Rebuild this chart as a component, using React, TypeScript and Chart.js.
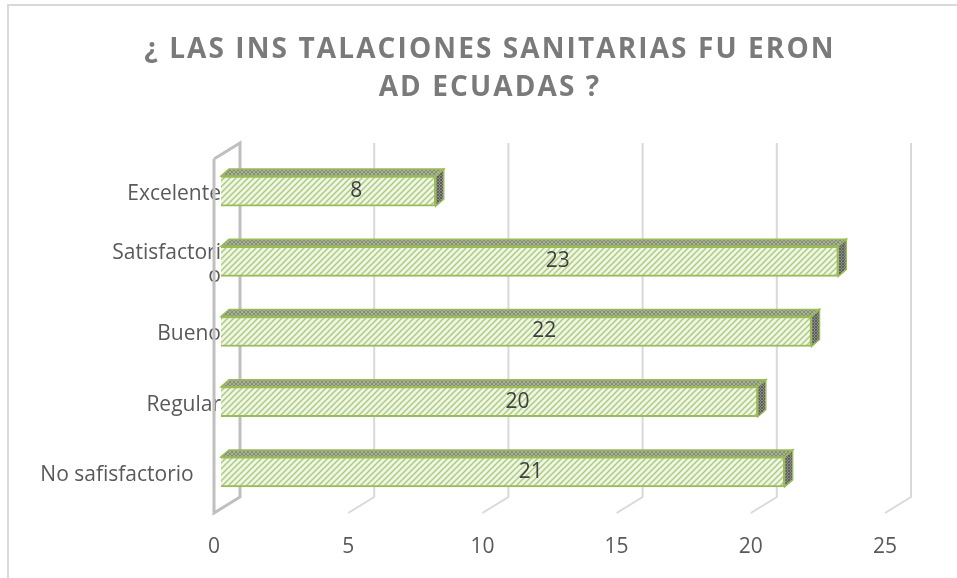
import React, { useEffect, useRef } from "react";
import { Chart, registerables } from "chart.js";

Chart.register(...registerables);

// ---- data ----
const categories: (string | string[])[] = [
  "Excelente",
  ["Satisfactori", "o"],
  "Bueno",
  "Regular",
  "No safisfactorio     ",
];
const values: number[] = [8, 23, 22, 20, 21];
const xMin = 0;
const xMax = 25;
const xStep = 5;
const titleLines: string[] = ["¿ LAS INS TALACIONES SANITARIAS FU ERON", "AD ECUADAS ?"];

// ---- style ----
const FONT = "'Open Sans', 'Liberation Sans', sans-serif";
const TEXT = "#595959";
const GRID = "#d9d9d9";
const WALL = "#bfbfbf";
const BAR_BORDER = "#9bbb59";
const DEPTH_X = 26;
const DEPTH_Y = -16;
const BAR_DX = 8;
const BAR_DY = -7;
const BAR_FRONT_SHIFT = 7;

function makePattern(bg: string, fg: string, size: number, lw: number, cross: boolean) {
  const c = document.createElement("canvas");
  c.width = size;
  c.height = size;
  const g = c.getContext("2d")!;
  g.fillStyle = bg;
  g.fillRect(0, 0, size, size);
  g.strokeStyle = fg;
  g.lineWidth = lw;
  g.beginPath();
  g.moveTo(-1, size + 1);
  g.lineTo(size + 1, -1);
  g.moveTo(-2, 2);
  g.lineTo(2, -2);
  g.moveTo(size - 2, size + 2);
  g.lineTo(size + 2, size - 2);
  if (cross) {
    g.moveTo(-1, -1);
    g.lineTo(size + 1, size + 1);
    g.moveTo(size - 2, -2);
    g.lineTo(size + 2, 2);
    g.moveTo(-2, size - 2);
    g.lineTo(2, size + 2);
  }
  g.stroke();
  return g.createPattern(c, "repeat")!;
}

export default function App() {
  const ref = useRef<HTMLCanvasElement | null>(null);

  useEffect(() => {
    const canvas = ref.current!;
    const ctx0 = canvas.getContext("2d")!;
    const front = makePattern("#f0f6e5", "#adcc80", 6, 1.5, false);
    const top = makePattern("#a9b298", "#848f70", 4, 1, true);
    const side = makePattern("#8a8a8a", "#5e5e5e", 3, 1, true);

    const decor = {
      id: "decor",
      beforeDraw(chart: any) {
        const ctx = chart.ctx;
        ctx.save();
        ctx.fillStyle = "#ffffff";
        ctx.fillRect(0, 0, chart.width, chart.height);
        ctx.strokeStyle = GRID;
        ctx.lineWidth = 2;
        ctx.strokeRect(8, 5, chart.width + 50, chart.height + 50);
        // title
        ctx.fillStyle = "#7a7a7a";
        ctx.font = `bold 28px ${FONT}`;
        (ctx as any).letterSpacing = "2.1px";
        ctx.textAlign = "center";
        ctx.textBaseline = "middle";
        titleLines.forEach((t, i) => ctx.fillText(t, 490, 50 + i * 38));
        ctx.restore();
      },
      beforeDatasetsDraw(chart: any) {
        const ctx = chart.ctx;
        const xs = chart.scales.x;
        const area = chart.chartArea;
        const frontBottom = area.bottom + 6;
        const backBottom = frontBottom + DEPTH_Y;
        const backTop = area.top - 13;
        ctx.save();
        ctx.lineWidth = 2;
        ctx.strokeStyle = GRID;
        for (let v = xMin + xStep; v <= xMax; v += xStep) {
          const fx = xs.getPixelForValue(v) - BAR_FRONT_SHIFT;
          const bx = fx + DEPTH_X;
          ctx.beginPath();
          ctx.moveTo(fx, frontBottom);
          ctx.lineTo(bx, backBottom);
          ctx.lineTo(bx, backTop);
          ctx.stroke();
        }
        // left wall
        const fx0 = xs.getPixelForValue(xMin) - BAR_FRONT_SHIFT;
        const bx0 = fx0 + DEPTH_X;
        const frontTop = backTop - DEPTH_Y;
        ctx.strokeStyle = WALL;
        ctx.lineWidth = 3;
        ctx.lineJoin = "miter";
        ctx.beginPath();
        ctx.moveTo(fx0, frontTop);
        ctx.lineTo(fx0, frontBottom);
        ctx.lineTo(bx0, backBottom);
        ctx.lineTo(bx0, backTop);
        ctx.lineTo(fx0, frontTop);
        ctx.stroke();
        ctx.restore();
      },
      afterDatasetsDraw(chart: any) {
        const ctx = chart.ctx;
        const meta = chart.getDatasetMeta(0);
        ctx.save();
        ctx.strokeStyle = BAR_BORDER;
        ctx.lineWidth = 1.5;
        meta.data.forEach((bar: any, i: number) => {
          const l = bar.base;
          const r = bar.x;
          const t = bar.y - bar.height / 2;
          const b = bar.y + bar.height / 2;
          // top face
          ctx.beginPath();
          ctx.moveTo(l, t);
          ctx.lineTo(l + BAR_DX, t + BAR_DY);
          ctx.lineTo(r + BAR_DX, t + BAR_DY);
          ctx.lineTo(r, t);
          ctx.closePath();
          ctx.fillStyle = top;
          ctx.fill();
          ctx.stroke();
          // side face
          ctx.beginPath();
          ctx.moveTo(r, t);
          ctx.lineTo(r + BAR_DX, t + BAR_DY);
          ctx.lineTo(r + BAR_DX, b + BAR_DY);
          ctx.lineTo(r, b);
          ctx.closePath();
          ctx.fillStyle = side;
          ctx.fill();
          ctx.stroke();
          // value label
          ctx.fillStyle = "#404040";
          ctx.font = `21px ${FONT}`;
          ctx.textAlign = "center";
          ctx.textBaseline = "middle";
          ctx.fillText(String(values[i]), (l + r) / 2 + 28, bar.y);
        });
        ctx.restore();
      },
    };

    const chart = new Chart(ctx0, {
      type: "bar",
      data: {
        labels: categories as any,
        datasets: [
          {
            data: values,
            backgroundColor: front as any,
            borderColor: BAR_BORDER,
            borderWidth: 2,
            barThickness: 30,
          },
        ],
      },
      options: {
        indexAxis: "y",
        animation: false,
        responsive: false,
        maintainAspectRatio: false,
        layout: { padding: { left: 0, top: 156, right: 65, bottom: 0 } },
        plugins: {
          legend: { display: false },
          title: { display: false },
          tooltip: { enabled: false },
        },
        scales: {
          x: {
            min: xMin,
            max: xMax,
            ticks: {
              stepSize: xStep,
              color: TEXT,
              font: { family: FONT, size: 21 },
              padding: 27,
              labelOffset: -BAR_FRONT_SHIFT,
            },
            grid: { display: false, drawTicks: false },
            border: { display: false },
            afterFit: (s: any) => {
              s.height = 71;
            },
          },
          y: {
            ticks: {
              color: TEXT,
              font: { family: FONT, size: 21, lineHeight: 1.1 },
              padding: 0,
              labelOffset: 3,
            },
            grid: { display: false, drawTicks: false },
            border: { display: false },
            afterFit: (s: any) => {
              s.width = 221;
            },
          },
        },
      },
      plugins: [decor],
    });
    return () => chart.destroy();
  }, []);

  return (
    <div style={{ position: "absolute", left: 0, top: 0, width: 957, height: 578 }}>
      <canvas ref={ref} width={957} height={578} style={{ width: 957, height: 578 }} />
    </div>
  );
}
